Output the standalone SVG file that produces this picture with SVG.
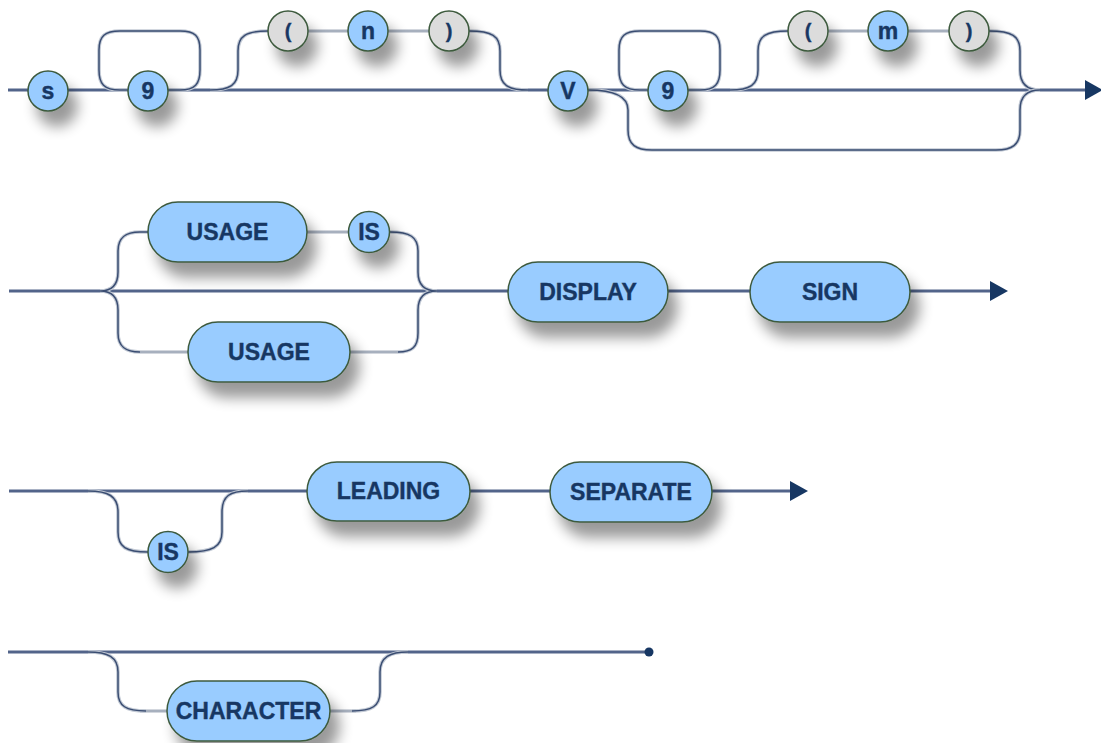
<svg xmlns="http://www.w3.org/2000/svg" width="1101" height="743" viewBox="0 0 1101 743">
<defs>
<filter id="sh" x="-40%" y="-40%" width="200%" height="230%">
<feGaussianBlur in="SourceAlpha" stdDeviation="7"/>
<feOffset dx="9" dy="15" result="b"/>
<feComponentTransfer in="b" result="c"><feFuncA type="linear" slope="0.4"/></feComponentTransfer>
<feMerge><feMergeNode in="c"/><feMergeNode in="SourceGraphic"/></feMerge>
</filter>
<marker id="arr" viewBox="0 0 18 20" refX="0" refY="10" markerWidth="18" markerHeight="20" markerUnits="userSpaceOnUse" orient="auto">
<path d="M0 0 L18 10 L0 20 Z" fill="#173763"/>
</marker>
</defs>
<style>
.main{stroke:#52648a;stroke-width:3;fill:none}
.light{stroke:#a7b0be;stroke-width:3;fill:none}
.halo{stroke:#c3cad5;stroke-width:3.6;fill:none}
.curve{stroke:#3a4d72;stroke-width:1.5;fill:none}
.n{fill:#99ccff;stroke:#3d5a3d;stroke-width:1.5;filter:url(#sh)}
.g{fill:#dcdcdc;stroke:#3d5a3d;stroke-width:1.5;filter:url(#sh)}
.t{font-family:"Liberation Sans",Arial,sans-serif;font-weight:bold;font-size:23px;fill:#173763;stroke:#173763;stroke-width:0.4;text-anchor:middle}
.p{font-size:20px}
</style>
<g id="connectors">
<path class="main" d="M8 90 H1085" marker-end="url(#arr)"/>
<path class="light" d="M308 31 H348 M388 31 H429 M828 31 H868 M908 31 H949"/>
<path class="halo" d="M128 90 L120 90 C104 90 99 84 99 70 L99 50 C99 36 105 31 120 31 L180 31 C195 31 200 36 200 50 L200 70 C200 84 195 90 180 90 L168 90"/>
<path class="curve" d="M128 90 L120 90 C104 90 99 84 99 70 L99 50 C99 36 105 31 120 31 L180 31 C195 31 200 36 200 50 L200 70 C200 84 195 90 180 90 L168 90"/>
<path class="halo" d="M648 90 L640 90 C624 90 619 84 619 70 L619 50 C619 36 625 31 640 31 L700 31 C715 31 720 36 720 50 L720 70 C720 84 715 90 700 90 L688 90"/>
<path class="curve" d="M648 90 L640 90 C624 90 619 84 619 70 L619 50 C619 36 625 31 640 31 L700 31 C715 31 720 36 720 50 L720 70 C720 84 715 90 700 90 L688 90"/>
<path class="halo" d="M210 90 C230 90 238 85 238 70 L238 51 C238 36 246 31 268 31 M469 31 C492 31 500 36 500 51 L500 70 C500 85 508 90 528 90"/>
<path class="curve" d="M210 90 C230 90 238 85 238 70 L238 51 C238 36 246 31 268 31 M469 31 C492 31 500 36 500 51 L500 70 C500 85 508 90 528 90"/>
<path class="halo" d="M730 90 C750 90 758 85 758 70 L758 51 C758 36 766 31 788 31 M989 31 C1012 31 1020 36 1020 51 L1020 70 C1020 85 1028 90 1040 90"/>
<path class="curve" d="M730 90 C750 90 758 85 758 70 L758 51 C758 36 766 31 788 31 M989 31 C1012 31 1020 36 1020 51 L1020 70 C1020 85 1028 90 1040 90"/>
<path class="halo" d="M588 90 C612 90 628 95 628 110 L628 130 C628 145 636 150 652 150 L996 150 C1012 150 1020 145 1020 130 L1020 110 C1020 95 1028 90 1040 90"/>
<path class="curve" d="M588 90 C612 90 628 95 628 110 L628 130 C628 145 636 150 652 150 L996 150 C1012 150 1020 145 1020 130 L1020 110 C1020 95 1028 90 1040 90"/>
<path class="main" d="M9 291 H990" marker-end="url(#arr)"/>
<path class="light" d="M307 232 H348 M140 352 H188 M350 352 H398"/>
<path class="halo" d="M100 291 C112 291 118 285 118 272 L118 251 C118 237 126 232 140 232 L148 232 M100 291 C112 291 118 297 118 310 L118 333 C118 347 126 352 140 352 M390 232 C410 232 418 237 418 251 L418 272 C418 285 425 291 437 291 M398 352 C412 352 418 347 418 333 L418 310 C418 297 425 291 437 291"/>
<path class="curve" d="M100 291 C112 291 118 285 118 272 L118 251 C118 237 126 232 140 232 L148 232 M100 291 C112 291 118 297 118 310 L118 333 C118 347 126 352 140 352 M390 232 C410 232 418 237 418 251 L418 272 C418 285 425 291 437 291 M398 352 C412 352 418 347 418 333 L418 310 C418 297 425 291 437 291"/>
<path class="main" d="M9 491 H790" marker-end="url(#arr)"/>
<path class="halo" d="M88 491 C108 491 118 496 118 512 L118 532 C118 547 126 552 148 552 M188 552 C212 552 222 547 222 532 L222 512 C222 496 230 491 248 491"/>
<path class="curve" d="M88 491 C108 491 118 496 118 512 L118 532 C118 547 126 552 148 552 M188 552 C212 552 222 547 222 532 L222 512 C222 496 230 491 248 491"/>
<path class="main" d="M8 652 H649"/>
<circle cx="649" cy="652" r="4.5" fill="#173763"/>
<path class="light" d="M140 711 H167 M330 711 H356"/>
<path class="halo" d="M88 652 C108 652 118 657 118 672 L118 692 C118 706 126 711 146 711 M352 711 C372 711 380 706 380 692 L380 672 C380 657 390 652 408 652"/>
<path class="curve" d="M88 652 C108 652 118 657 118 672 L118 692 C118 706 126 711 146 711 M352 711 C372 711 380 706 380 692 L380 672 C380 657 390 652 408 652"/>
</g>
<g id="n-s"><circle class="n" cx="48" cy="91" r="20"/><text class="t" x="48" y="99">s</text></g>
<g id="n-9a"><circle class="n" cx="148" cy="91" r="20"/><text class="t" x="148" y="99">9</text></g>
<g id="n-lpa"><circle class="g" cx="288" cy="31" r="20"/><text class="t p" x="288" y="38">(</text></g>
<g id="n-n"><circle class="n" cx="368" cy="31" r="20"/><text class="t" x="368" y="39">n</text></g>
<g id="n-rpa"><circle class="g" cx="449" cy="31" r="20"/><text class="t p" x="449" y="38">)</text></g>
<g id="n-V"><circle class="n" cx="568" cy="91" r="20"/><text class="t" x="568" y="99">V</text></g>
<g id="n-9b"><circle class="n" cx="668" cy="91" r="20"/><text class="t" x="668" y="99">9</text></g>
<g id="n-lpb"><circle class="g" cx="808" cy="31" r="20"/><text class="t p" x="808" y="38">(</text></g>
<g id="n-m"><circle class="n" cx="888" cy="31" r="20"/><text class="t" x="888" y="39">m</text></g>
<g id="n-rpb"><circle class="g" cx="969" cy="31" r="20"/><text class="t p" x="969" y="38">)</text></g>
<g id="n-usage1"><rect class="n" x="148" y="202" width="159" height="60" rx="30" ry="30"/><text class="t" x="227.5" y="240">USAGE</text></g>
<g id="n-is1"><circle class="n" cx="369" cy="232" r="20.5"/><text class="t" x="369" y="240">IS</text></g>
<g id="n-usage2"><rect class="n" x="188" y="322" width="162" height="60" rx="30" ry="30"/><text class="t" x="269" y="360">USAGE</text></g>
<g id="n-display"><rect class="n" x="508" y="262" width="160" height="60" rx="30" ry="30"/><text class="t" x="588" y="300">DISPLAY</text></g>
<g id="n-sign"><rect class="n" x="750" y="262" width="160" height="60" rx="30" ry="30"/><text class="t" x="830" y="300">SIGN</text></g>
<g id="n-is2"><ellipse class="n" cx="168" cy="552" rx="20" ry="20.5"/><text class="t" x="168" y="560">IS</text></g>
<g id="n-leading"><rect class="n" x="307" y="462" width="163" height="59" rx="30" ry="29.5"/><text class="t" x="388.5" y="499">LEADING</text></g>
<g id="n-separate"><rect class="n" x="550" y="462" width="162" height="60" rx="30" ry="30"/><text class="t" x="631" y="500">SEPARATE</text></g>
<g id="n-character"><rect class="n" x="167" y="681" width="163" height="60" rx="30" ry="30"/><text class="t" x="248.5" y="719">CHARACTER</text></g>
</svg>
